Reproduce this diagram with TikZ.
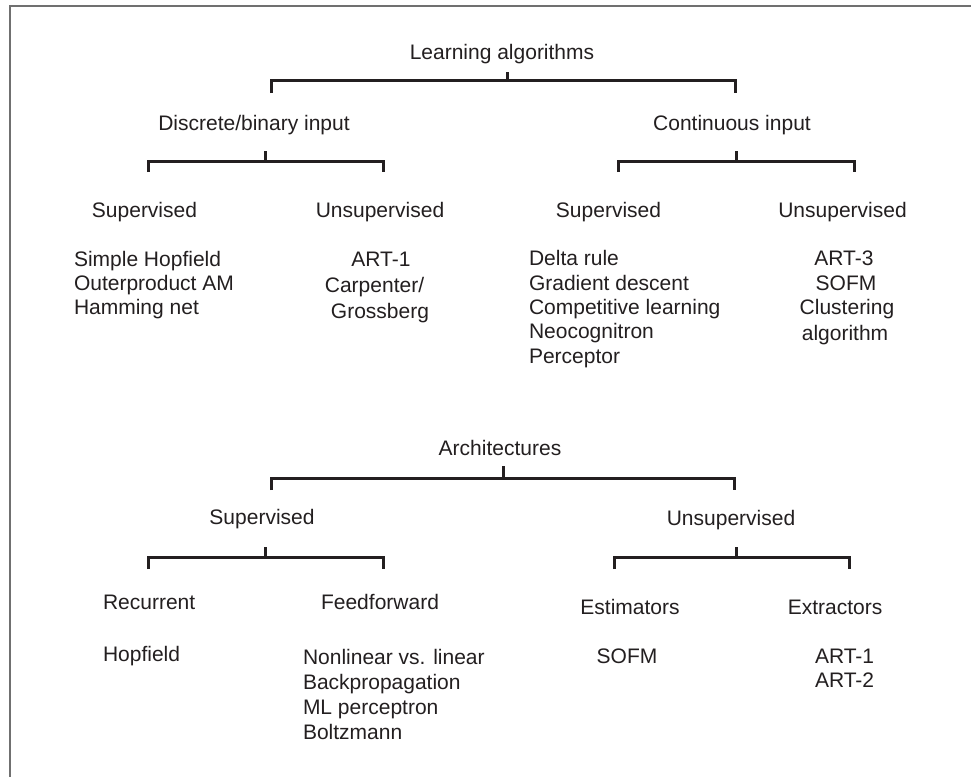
\documentclass[tikz,border=0pt]{standalone}
\usepackage{fontspec}
\setmainfont{Liberation Sans}
\definecolor{ink}{HTML}{231F20}
\definecolor{framegray}{HTML}{707070}
\tikzset{
  lbl/.style={anchor=base, inner sep=0pt, outer sep=0pt, text=ink,
              font=\fontsize{21}{25}\selectfont},
  lblw/.style={lbl, anchor=base west},
  fork/.style={draw=ink, line width=3pt, line cap=butt, line join=miter},
  frame/.style={draw=framegray, line width=2.7pt, line join=miter}
}
% forked connector: name, x-left, x-mid, x-right, y-top, y-bar, y-bottom
\newcommand\forkbar[7]{%
  \coordinate (#1-t) at (#3,#5);
  \coordinate (#1-m) at (#3,#6);
  \coordinate (#1-l) at (#2,#7);
  \coordinate (#1-lh) at (#2,#6);
  \coordinate (#1-rh) at (#4,#6);
  \coordinate (#1-r) at (#4,#7);
  \draw[fork] (#1-l) -- (#1-lh) -- (#1-rh) -- (#1-r);
  \draw[fork] (#1-t) -- (#1-m);
}
\begin{document}
\begin{tikzpicture}[x=1pt, y=-1pt]
\useasboundingbox (0,0) rectangle (971,777);
\fill[white] (0,0) rectangle (971,777);

% frame
\coordinate (fr-a) at (971,6);
\coordinate (fr-b) at (10,6);
\coordinate (fr-c) at (10,777);
\draw[frame] (fr-a) -- (fr-b) -- (fr-c);

% ---------- learning algorithms ----------
\node[lbl] (lalg) at (502,59) {Learning algorithms};
\forkbar{fa}{271}{507}{735}{72}{80}{93}

\node[lbl] (disc) at (254,130) {Discrete/binary input};
\node[lbl] (cont) at (732,130) {Continuous input};
\forkbar{fb}{148}{265}{383}{151}{161}{172}
\forkbar{fc}{618}{736}{854}{151}{161}{172}

\node[lbl] (dsup) at (144.5,217) {Supervised};
\node[lbl] (duns) at (380,217) {Unsupervised};
\node[lbl] (csup) at (608.5,217) {Supervised};
\node[lbl] (cuns) at (842.5,217) {Unsupervised};

% discrete, supervised
\node[lblw] (ds1) at (74,266) {Simple Hopfield};
\node[lblw] (ds2) at (74,290) {Outerproduct AM};
\node[lblw] (ds3) at (74,314) {Hamming net};
% discrete, unsupervised
\node[lbl] (du1) at (381,266) {ART-1};
\node[lbl] (du2) at (374.5,292) {Carpenter/};
\node[lbl] (du3) at (380,318) {Grossberg};
% continuous, supervised
\node[lblw] (cs1) at (529,265) {Delta rule};
\node[lblw] (cs2) at (529,290) {Gradient descent};
\node[lblw] (cs3) at (529,314) {Competitive learning};
\node[lblw] (cs4) at (529,338) {Neocognitron};
\node[lblw] (cs5) at (529,363) {Perceptor};
% continuous, unsupervised
\node[lbl] (cu1) at (844,265) {ART-3};
\node[lbl] (cu2) at (846,290) {SOFM};
\node[lbl] (cu3) at (847,314) {Clustering};
\node[lbl] (cu4) at (845,340) {algorithm};

% ---------- architectures ----------
\node[lbl] (arch) at (500,455) {Architectures};
\forkbar{fd}{271}{503}{734}{466}{478}{490}

\node[lbl] (asup) at (262,524) {Supervised};
\node[lbl] (auns) at (731,525) {Unsupervised};
\forkbar{fe}{148}{265}{383}{547}{557}{569}
\forkbar{ff}{614}{736}{849}{547}{557}{569}

\node[lblw] (rec) at (103,609) {Recurrent};
\node[lbl] (ffw) at (380,609) {Feedforward};
\node[lbl] (est) at (630,614) {Estimators};
\node[lbl] (ext) at (835,614) {Extractors};

\node[lblw] (hop) at (103,661) {Hopfield};
\node[lblw] (fw1) at (303,664) {Nonlinear vs. linear};
\node[lblw] (fw2) at (303,689) {Backpropagation};
\node[lblw] (fw3) at (303,714) {ML perceptron};
\node[lblw] (fw4) at (303,739) {Boltzmann};
\node[lbl] (es1) at (627,663) {SOFM};
\node[lblw] (ex1) at (815,663) {ART-1};
\node[lblw] (ex2) at (815,687) {ART-2};
\end{tikzpicture}
\end{document}
